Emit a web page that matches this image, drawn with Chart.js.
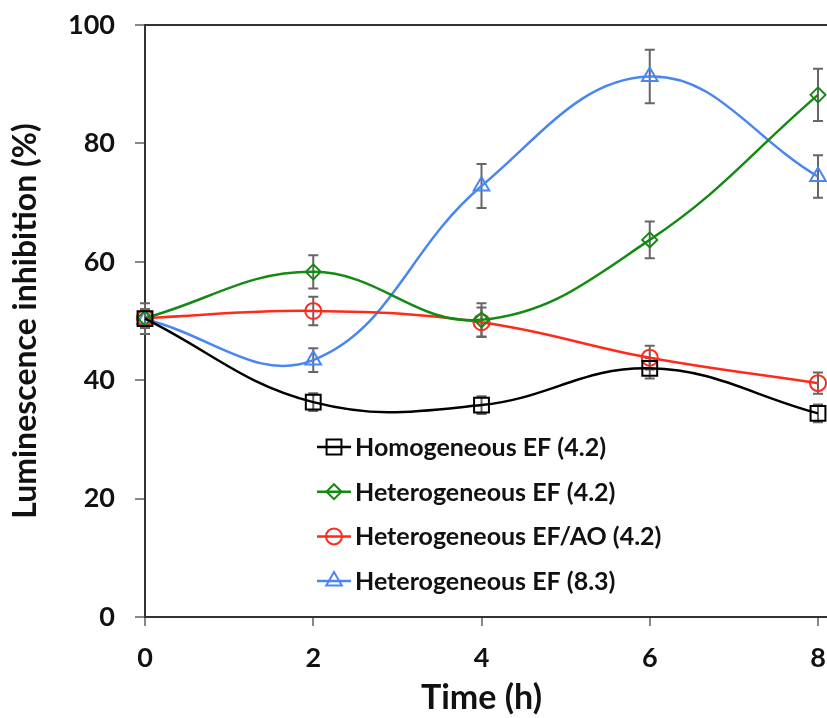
<!DOCTYPE html>
<html>
<head>
<meta charset="utf-8">
<script src="https://cdn.jsdelivr.net/npm/chart.js@4/dist/chart.umd.min.js"></script>
<style>
  html, body { margin: 0; padding: 0; background: #fff; overflow: hidden; }
  #wrap { width: 860px; height: 718px; }
</style>
</head>
<body>
<div id="wrap"><canvas id="chart"></canvas></div>
<script>
// values
const times = [0, 2, 4, 6, 8];
const xTicks = [0, 2, 4, 6, 8];
const yTicks = [0, 20, 40, 60, 80, 100];

const labels = ['Homogeneous EF (4.2)', 'Heterogeneous EF (4.2)', 'Heterogeneous EF/AO (4.2)', 'Heterogeneous EF (8.3)'];
const homoEF42 = [50.4, 36.3, 35.8, 42.0, 34.4];
const heteroEF42 = [50.5, 58.3, 50.2, 63.7, 88.2];
const heteroEFAO42 = [50.5, 51.7, 49.8, 43.8, 39.5];
const heteroEF83 = [50.3, 43.4, 72.8, 91.3, 74.4];

const homoErr = [2.6, 1.5, 1.5, 1.7, 1.5];
const heteroErr = [1.5, 2.8, 2.8, 3.1, 4.4];
const heteroAOErr = [1.5, 2.4, 2.5, 2.0, 1.8];
const hetero83Err = [1.5, 2.0, 3.7, 4.5, 3.6];

const colors = ['#000000', '#138a13', '#ff2a1a', '#4a86f0'];
const styles = ['rect', 'rectRot', 'circle', 'triangle'];
const radii = [10.5, 7.5, 8, 9];

const series = [homoEF42, heteroEF42, heteroEFAO42, heteroEF83];
const errors = [homoErr, heteroErr, heteroAOErr, hetero83Err];

const FONT = 'Lato, "Open Sans", sans-serif';

const datasets = series.map((vals, i) => ({
    label: labels[i],
    data: vals.map((v, j) => ({ x: times[j], y: v })),
    errors: errors[i],
    borderColor: colors[i],
    backgroundColor: 'rgba(0,0,0,0)',
    borderWidth: 2.5,
    tension: 0.4,
    pointStyle: styles[i],
    pointRadius: radii[i],
    pointBorderWidth: 2,
    pointBorderColor: colors[i],
    pointBackgroundColor: 'rgba(0,0,0,0)',
    clip: false
}));

// gray error bars, under the lines
const errorBars = {
    id: 'errorBars',
    beforeDatasetsDraw(chart) {
        const ctx = chart.ctx;
        const yScale = chart.scales.y;
        ctx.save();
        ctx.strokeStyle = '#666';
        ctx.lineWidth = 2;
        chart.data.datasets.forEach((ds, i) => {
            const meta = chart.getDatasetMeta(i);
            meta.data.forEach((pt, j) => {
                const v = ds.data[j].y, e = ds.errors[j];
                const top = yScale.getPixelForValue(v + e);
                const bot = yScale.getPixelForValue(v - e);
                ctx.beginPath();
                ctx.moveTo(pt.x, top); ctx.lineTo(pt.x, bot);
                ctx.moveTo(pt.x - 5, top); ctx.lineTo(pt.x + 5, top);
                ctx.moveTo(pt.x - 5, bot); ctx.lineTo(pt.x + 5, bot);
                ctx.stroke();
            });
        });
        ctx.restore();
    }
};

// frame lines and the legend inside the plot
const extras = {
    id: 'extras',
    afterDraw(chart) {
        const ctx = chart.ctx;
        const area = chart.chartArea;
        ctx.save();
        ctx.strokeStyle = '#333';
        ctx.lineWidth = 2;
        ctx.beginPath();
        ctx.moveTo(area.left - 1, area.top); ctx.lineTo(chart.width, area.top);
        ctx.moveTo(area.right, area.bottom); ctx.lineTo(chart.width, area.bottom);
        ctx.stroke();

        const lx = area.left + 172, ly = 447, step = 44.7;
        chart.data.datasets.forEach((ds, i) => {
            const y = ly + i * step;
            ctx.strokeStyle = ds.borderColor;
            ctx.lineWidth = 2.5;
            ctx.beginPath();
            ctx.moveTo(lx, y); ctx.lineTo(lx + 34, y);
            ctx.stroke();
            ctx.fillStyle = 'rgba(0,0,0,0)';
            ctx.lineWidth = 2;
            Chart.helpers.drawPoint(ctx, {
                pointStyle: ds.pointStyle, radius: ds.pointRadius, borderWidth: 2, rotation: 0
            }, lx + 17, y);
            ctx.fillStyle = '#111';
            ctx.font = 'bold 25px ' + FONT;
            ctx.textBaseline = 'middle';
            ctx.textAlign = 'left';
            ctx.fillText(ds.label, lx + 38, y + 1);
        });
        ctx.restore();
    }
};

new Chart(document.getElementById('chart'), {
    type: 'line',
    data: { datasets },
    plugins: [errorBars, extras],
    options: {
        responsive: true,
        maintainAspectRatio: false,
        animation: false,
        layout: { padding: { left: 0, right: 42, top: 25, bottom: 0 } },
        plugins: { legend: { display: false }, tooltip: { enabled: false } },
        scales: {
            x: {
                type: 'linear',
                min: 0, max: 8,
                afterFit(scale) { scale.height = 101; },
                afterBuildTicks(scale) { scale.ticks = xTicks.map(v => ({ value: v })); },
                border: { display: true, color: '#333', width: 2 },
                grid: { drawOnChartArea: false, drawTicks: true, tickLength: 9, color: '#888', lineWidth: 2 },
                ticks: { color: '#111', padding: 16, font: { family: FONT, size: 27, weight: 'bold' } },
                title: { display: true, text: 'Time (h)', color: '#111', padding: { top: 0, bottom: 0 },
                         font: { family: FONT, size: 34, weight: 'bold' } }
            },
            y: {
                min: 0, max: 100,
                afterFit(scale) { scale.width = 145; scale.paddingTop = 0; scale.paddingBottom = 0; },
                afterBuildTicks(scale) { scale.ticks = yTicks.map(v => ({ value: v })); },
                border: { display: true, color: '#333', width: 2 },
                grid: { drawOnChartArea: false, drawTicks: true, tickLength: 10, color: '#888', lineWidth: 2 },
                ticks: { color: '#111', padding: 20, font: { family: FONT, size: 27, weight: 'bold' } },
                title: { display: true, text: 'Luminescence inhibition (%)', color: '#111', padding: { top: 6, bottom: 0 },
                         font: { family: FONT, size: 32, weight: 'bold' } }
            }
        }
    }
});
</script>
</body>
</html>
